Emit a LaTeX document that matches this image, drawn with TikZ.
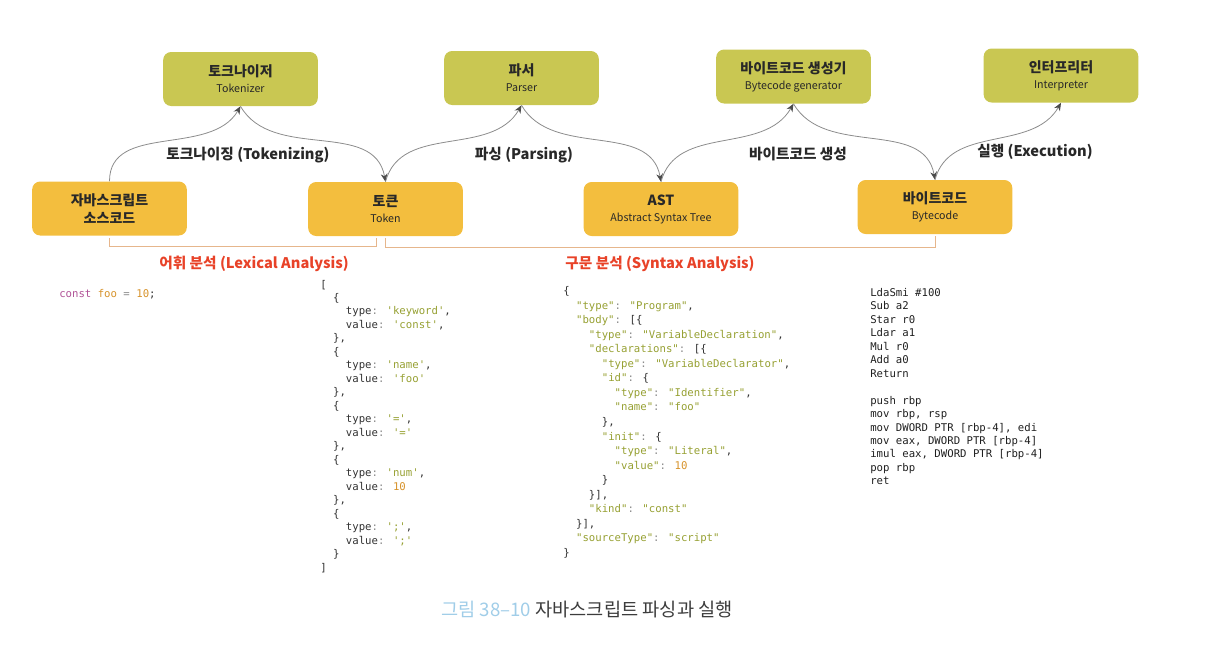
\documentclass[tikz,border=0pt]{standalone}
\usepackage{fontspec}
\setmainfont{Noto Sans CJK KR}
\newfontfamily\codefont{DejaVu Sans Mono}[Ligatures=TeXOff]
\usetikzlibrary{arrows.meta,positioning,calc}

\definecolor{topfill}{RGB}{201,199,82}
\definecolor{botfill}{RGB}{243,190,62}
\definecolor{flowline}{RGB}{140,140,140}
\definecolor{tipink}{RGB}{75,75,75}
\definecolor{bracecol}{RGB}{230,182,140}
\definecolor{redlab}{RGB}{232,66,40}
\definecolor{boxink}{RGB}{40,40,40}
\definecolor{codeink}{RGB}{50,50,50}
\definecolor{codepun}{RGB}{140,140,140}
\definecolor{codestr}{RGB}{150,160,50}
\definecolor{codenum}{RGB}{214,146,42}
\definecolor{codekw}{RGB}{176,82,150}
\definecolor{capblue}{RGB}{160,205,232}
\definecolor{capgrey}{RGB}{60,60,60}

% code helpers
\newcommand\ind[1]{\hspace*{#1\dimexpr4.82pt\relax}}
\newcommand\ckey[1]{\textcolor{codeink}{#1}}
\newcommand\cpun[1]{\textcolor{codepun}{#1}}
\newcommand\cstr[1]{\textcolor{codestr}{#1}}
\newcommand\cnum[1]{\textcolor{codenum}{#1}}
\newcommand\ttl[1]{{\fontsize{10.5}{12}\selectfont\bfseries #1}}
\newcommand\subt[1]{{\fontsize{8}{12}\selectfont #1}}

\tikzset{
  stage/.style={rounded corners=6pt,minimum width=116pt,minimum height=40.5pt,
                align=center,inner sep=2pt,text=boxink,font=\fontsize{10.5}{12}\selectfont},
  tool/.style={stage,fill=topfill},
  data/.style={stage,fill=botfill},
  flow/.style={draw=flowline,line width=0.6pt,
               -{Stealth[length=6pt,width=5pt,color=tipink]}},
  flowlab/.style={font=\fontsize{11}{13}\selectfont\bfseries,text=boxink,inner sep=0pt},
  phase/.style={font=\fontsize{11}{13}\selectfont\bfseries,text=redlab,inner sep=0pt},
  brace/.style={draw=bracecol,line width=0.7pt},
  code/.style={font=\codefont\fontsize{8}{10}\selectfont,text=codeink,
               anchor=base west,inner sep=0pt}
}

\begin{document}
\begin{tikzpicture}[x=0.75pt,y=0.75pt]
\useasboundingbox (0,0) rectangle (1222,-644);

% stages
\node[tool] (tkz)    at (240.5,-79)  {\ttl{토크나이저}\\\subt{Tokenizer}};
\node[tool] (parser) at (521.5,-78)  {\ttl{파서}\\\subt{Parser}};
\node[tool] (gen)    at (793.5,-76.5){\ttl{바이트코드 생성기}\\\subt{Bytecode generator}};
\node[tool] (interp) at (1061,-75.5) {\ttl{인터프리터}\\\subt{Interpreter}};

\node[data] (js)  at (109.5,-208.5) {\ttl{자바스크립트}\\[1.5pt]\ttl{소스코드}};
\node[data] (tok) at (385.5,-209)   {\ttl{토큰}\\\subt{Token}};
\node[data] (ast) at (661,-209)     {\ttl{AST}\\\subt{Abstract Syntax Tree}};
\node[data] (bc)  at (935,-207)     {\ttl{바이트코드}\\\subt{Bytecode}};

% flows
\draw[flow] (js.north)     to[out=90,in=-120]  (tkz.south);
\draw[flow] (tkz.south)    to[out=-60,in=100]  (tok.north);
\draw[flow] (tok.north)    to[out=75,in=-120]  (parser.south);
\draw[flow] (parser.south) to[out=-60,in=100]  (ast.north);
\draw[flow] (ast.north)    to[out=75,in=-120]  (gen.south);
\draw[flow] (gen.south)    to[out=-60,in=100]  (bc.north);
\draw[flow] (bc.north)     to[out=75,in=-120]  (interp.south);

\node[flowlab] (lbtkz)  at (248,-155)  {토크나이징 (Tokenizing)};
\node[flowlab] (lbpar)  at (524,-155)  {파싱 (Parsing)};
\node[flowlab] (lbgen)  at (798,-154)  {바이트코드 생성};
\node[flowlab] (lbexec) at (1035,-152) {실행 (Execution)};

% phases
\draw[brace] ([yshift=-1.5pt]js.south) -- ++(0,-9) -| ([xshift=-7pt,yshift=-1.5pt]tok.south);
\draw[brace] ([yshift=-1.5pt]tok.south) -- ++(0,-9) -| ([yshift=-1.5pt]bc.south);
\node[phase] (lex) at (254,-264) {어휘 분석 (Lexical Analysis)};
\node[phase] (syn) at (660,-264) {구문 분석 (Syntax Analysis)};

% source
\node[code] (src) at (59,-297) {\textcolor{codekw}{const} \cnum{foo} \cpun{=} \cnum{10};};

% tokens
\foreach \ln [count=\i from 0] in {
  {[},
  {\ind{2}\{},
  {\ind{4}\ckey{type}\cpun{:} \cstr{'keyword'},},
  {\ind{4}\ckey{value}\cpun{:} \cstr{'const'},},
  {\ind{2}\},},
  {\ind{2}\{},
  {\ind{4}\ckey{type}\cpun{:} \cstr{'name'},},
  {\ind{4}\ckey{value}\cpun{:} \cstr{'foo'}},
  {\ind{2}\},},
  {\ind{2}\{},
  {\ind{4}\ckey{type}\cpun{:} \cstr{'='},},
  {\ind{4}\ckey{value}\cpun{:} \cstr{'='}},
  {\ind{2}\},},
  {\ind{2}\{},
  {\ind{4}\ckey{type}\cpun{:} \cstr{'num'},},
  {\ind{4}\ckey{value}\cpun{:} \cnum{10}},
  {\ind{2}\},},
  {\ind{2}\{},
  {\ind{4}\ckey{type}\cpun{:} \cstr{';'},},
  {\ind{4}\ckey{value}\cpun{:} \cstr{';'}},
  {\ind{2}\}},
  {]}}
  \node[code] (tk\i) at (320,{-288-13.48*\i}) {\ln};

% syntax tree
\foreach \ln [count=\i from 0] in {
  {\{},
  {\ind{2}\cstr{"type"}\cpun{:} \cstr{"Program"},},
  {\ind{2}\cstr{"body"}\cpun{:} [\{},
  {\ind{4}\cstr{"type"}\cpun{:} \cstr{"VariableDeclaration"},},
  {\ind{4}\cstr{"declarations"}\cpun{:} [\{},
  {\ind{6}\cstr{"type"}\cpun{:} \cstr{"VariableDeclarator"},},
  {\ind{6}\cstr{"id"}\cpun{:} \{},
  {\ind{8}\cstr{"type"}\cpun{:} \cstr{"Identifier"},},
  {\ind{8}\cstr{"name"}\cpun{:} \cstr{"foo"}},
  {\ind{6}\},},
  {\ind{6}\cstr{"init"}\cpun{:} \{},
  {\ind{8}\cstr{"type"}\cpun{:} \cstr{"Literal"},},
  {\ind{8}\cstr{"value"}\cpun{:} \cnum{10}},
  {\ind{6}\}},
  {\ind{4}\}],},
  {\ind{4}\cstr{"kind"}\cpun{:} \cstr{"const"}},
  {\ind{2}\}],},
  {\ind{2}\cstr{"sourceType"}\cpun{:} \cstr{"script"}},
  {\}}}
  \node[code] (as\i) at (563,{-294.5-14.55*\i}) {\ln};

% bytecode and machine code
\foreach \ln [count=\i from 0] in {
  {LdaSmi \#100},{Sub a2},{Star r0},{Ldar a1},{Mul r0},{Add a0},{Return},{},
  {push rbp},{mov rbp, rsp},{mov DWORD PTR [rbp-4], edi},
  {mov eax, DWORD PTR [rbp-4]},{imul eax, DWORD PTR [rbp-4]},{pop rbp},{ret}}
  \node[code,text=black!88] (bt\i) at (870,{-296.5-13.45*\i}) {\ln};

% caption
\node[font=\fontsize{14}{16}\selectfont,text=capgrey] (cap) at (587,-609)
  {\textcolor{capblue}{그림 38–10} 자바스크립트 파싱과 실행};
\end{tikzpicture}
\end{document}
